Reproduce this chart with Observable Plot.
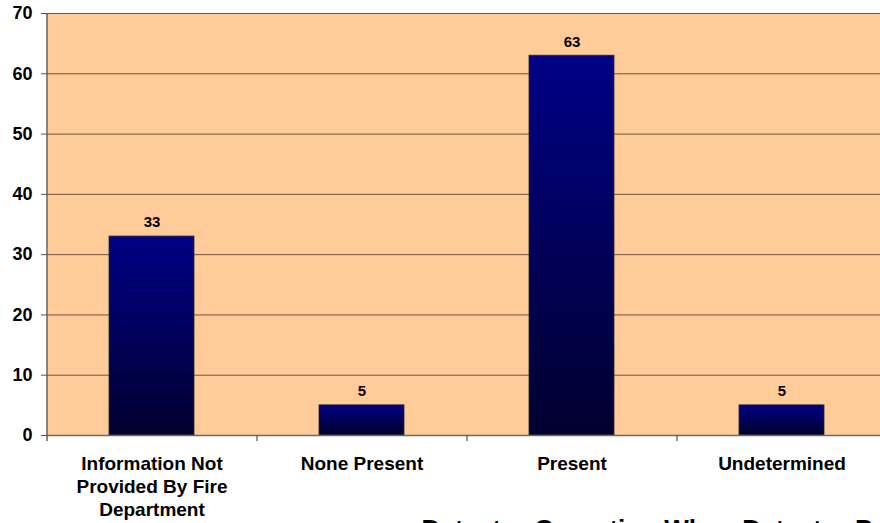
<!DOCTYPE html>
<html>
<head>
<meta charset="utf-8">
<script src="https://cdn.jsdelivr.net/npm/d3@7"></script>
<script src="https://cdn.jsdelivr.net/npm/@observablehq/plot@0.6"></script>
<style>
  html, body { margin: 0; padding: 0; background: #ffffff; overflow: hidden; }
  #chart { width: 880px; height: 523px; overflow: hidden; }
</style>
</head>
<body>
<div id="chart"></div>
<script>
const categories = ["Information Not Provided By Fire Department", "None Present", "Present", "Undetermined"];
const categoryLabels = ["Information Not\nProvided By Fire\nDepartment", "None Present", "Present", "Undetermined"];
const values = [33, 5, 63, 5];
const yTicks = [0, 10, 20, 30, 40, 50, 60, 70];
const gridTicks = [10, 20, 30, 40, 50, 60, 70];
const title = "Detector Operation When Detector Present";

const data = categories.map((c, i) => ({category: c, value: values[i]}));
const labelOf = new Map(categories.map((c, i) => [c, categoryLabels[i]]));

const W = 887, H = 523;
const mL = 47, mR = 0, mT = 13, mB = 88;
const step = (W - mL - mR) / categories.length;

const chart = Plot.plot({
  width: W,
  height: H,
  marginLeft: mL,
  marginRight: mR,
  marginTop: mT,
  marginBottom: mB,
  style: {fontFamily: "'Liberation Sans', Arial, sans-serif", fontWeight: "bold", color: "#000", background: "transparent", maxWidth: "none"},
  x: {domain: categories, paddingInner: 0.595, paddingOuter: 0.2975},
  y: {domain: [0, 70]},
  marks: [
    Plot.frame({fill: "#ffcc99", stroke: "none"}),
    Plot.ruleY(gridTicks, {stroke: "#6e5640", strokeWidth: 1}),
    Plot.barY(data, {x: "category", y: "value", fill: "url(#barGrad)", stroke: "#2a2a2a", strokeWidth: 0.8}),
    Plot.text(data, {x: "category", y: "value", text: d => String(d.value), dy: -14, fontSize: 15, fontWeight: "bold", fill: "#000"}),
    Plot.ruleY([0], {stroke: "#6a6a6a", strokeWidth: 1.6}),
    Plot.ruleX([categories[0]], {dx: -step / 2, y1: -1, y2: 70, stroke: "#555", strokeWidth: 1.4}),
    Plot.ruleX(categories.slice(0, 3), {dx: step / 2, y1: 0, y2: -1, stroke: "#555", strokeWidth: 1.2}),
    Plot.axisY({ticks: yTicks, tickSize: 6, tickPadding: 9, fontSize: 18, fontWeight: "bold", stroke: "#555", label: null}),
    Plot.axisX({tickSize: 0, tickPadding: 18, fontSize: 19, lineHeight: 1.21, fontWeight: "bold", tickFormat: d => labelOf.get(d), label: null}),
    Plot.text([title], {frameAnchor: "bottom-left", textAnchor: "start", lineAnchor: "bottom", dx: 374, dy: 102, fontSize: 26, fontWeight: "bold", fill: "#000"})
  ]
});

const svg = d3.select(chart);
const grad = svg.insert("defs", ":first-child").append("linearGradient")
  .attr("id", "barGrad").attr("x1", 0).attr("y1", 0).attr("x2", 0).attr("y2", 1);
grad.append("stop").attr("offset", "0%").attr("stop-color", "#000086");
grad.append("stop").attr("offset", "100%").attr("stop-color", "#00002e");

document.getElementById("chart").appendChild(chart);
</script>
</body>
</html>
